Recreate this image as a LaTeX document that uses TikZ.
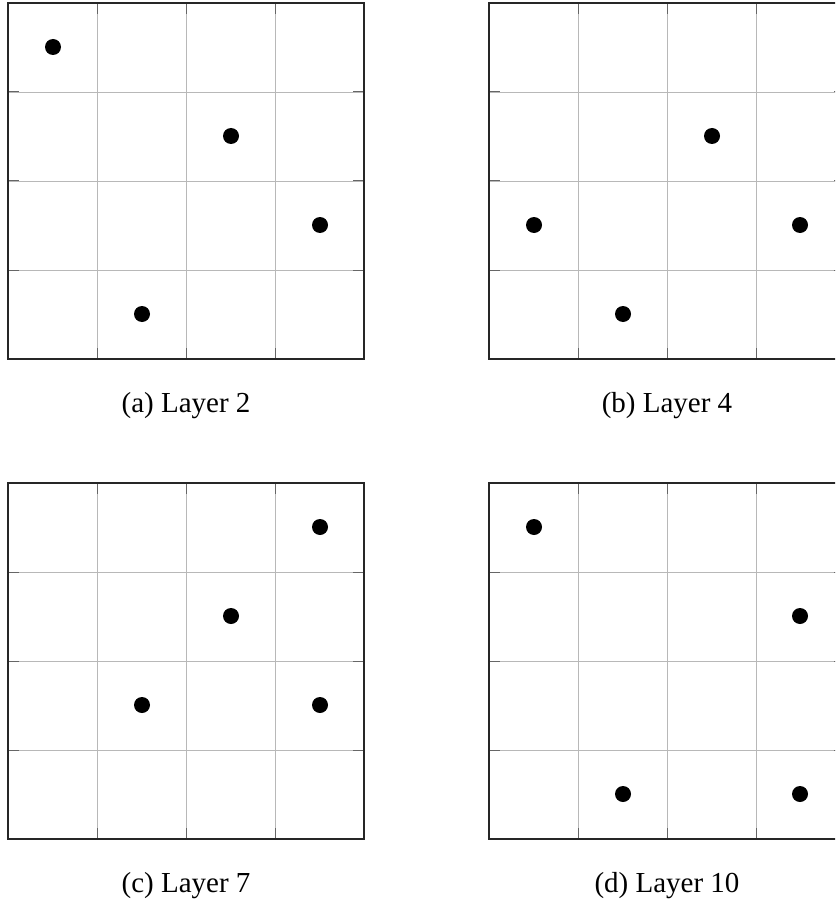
\documentclass[tikz,border=0pt]{standalone}
\usepackage{fontspec}
\setmainfont{Liberation Serif}
\tikzset{
  gridline/.style={line width=0.9pt, draw=black!28},
  frameline/.style={line width=1.3pt, draw=black!85},
  tickline/.style={line width=1pt, draw=black!60},
  dot/.style={circle, fill=black, inner sep=0pt, minimum size=16pt},
  caption/.style={font=\fontsize{29}{34}\selectfont, anchor=center}
}
\newcommand{\panel}[3]{% #1 = left x, #2 = top y, #3 = name
  \begin{scope}[shift={(#1,#2)}]
    \foreach \k in {1,2,3}{
      \draw[gridline] (\k*89,0) -- (\k*89,356);
      \draw[gridline] (0,\k*89) -- (356,\k*89);
      \draw[tickline] (\k*89,0) -- (\k*89,11);
      \draw[tickline] (\k*89,356) -- (\k*89,345);
      \draw[tickline] (0,\k*89) -- (11,\k*89);
      \draw[tickline] (356,\k*89) -- (345,\k*89);
    }
    \draw[frameline] (0,0) rectangle (356,356);
  \end{scope}
}
\newcommand{\pdot}[4]{% #1 left x, #2 top y, #3 col, #4 row
  \node[dot] at ({#1+44.5+89*#3},{#2+44.5+89*#4}) {};
}
\begin{document}
\begin{tikzpicture}[x=1pt,y=-1pt]
\useasboundingbox (0,0) rectangle (835,904);
\clip (0,0) rectangle (835,904);
\fill[white] (0,0) rectangle (835,904);
% panels
\panel{8}{3}{a}
\panel{489}{3}{b}
\panel{8}{483}{c}
\panel{489}{483}{d}
% dots (a)
\node[dot] (a1) at (53,47) {};
\node[dot] (a2) at (231,136) {};
\node[dot] (a3) at (320,225) {};
\node[dot] (a4) at (142,314) {};
% dots (b)
\node[dot] (b1) at (534,225) {};
\node[dot] (b2) at (712,136) {};
\node[dot] (b3) at (800,225) {};
\node[dot] (b4) at (623,314) {};
% dots (c)
\node[dot] (c1) at (320,527) {};
\node[dot] (c2) at (231,616) {};
\node[dot] (c3) at (142,705) {};
\node[dot] (c4) at (320,705) {};
% dots (d)
\node[dot] (d1) at (534,527) {};
\node[dot] (d2) at (800,616) {};
\node[dot] (d3) at (623,794) {};
\node[dot] (d4) at (800,794) {};
% captions
\node[caption] (capa) at (186,406) {(a) Layer 2};
\node[caption] (capb) at (667,406) {(b) Layer 4};
\node[caption] (capc) at (186,886) {(c) Layer 7};
\node[caption] (capd) at (667,886) {(d) Layer 10};
\end{tikzpicture}
\end{document}
